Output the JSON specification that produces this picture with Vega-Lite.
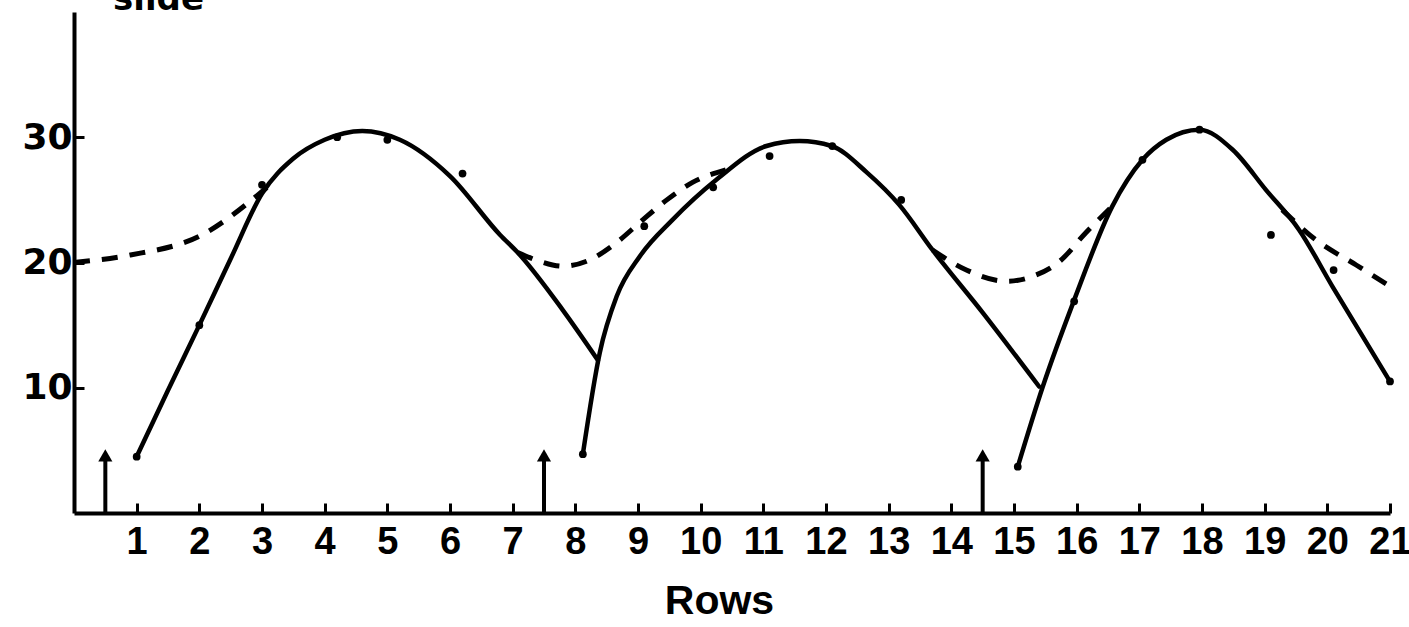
{
  "$schema": "https://vega.github.io/schema/vega-lite/v6.json",
  "width": 1316,
  "height": 501,
  "autosize": {"type": "none"},
  "padding": {"left": 74, "top": 12, "right": 19, "bottom": 114},
  "background": "white",
  "config": {
    "view": {"stroke": null},
    "font": "DejaVu Sans",
    "axis": {"grid": false}
  },
  "datasets": {
    "solid": [
      {"x": 1.0, "y": 4.5, "c": 1}, {"x": 1.5, "y": 9.8, "c": 1}, {"x": 2.0, "y": 15.0, "c": 1}, {"x": 2.5, "y": 20.3, "c": 1},
      {"x": 3.0, "y": 25.5, "c": 1}, {"x": 3.5, "y": 28.3, "c": 1}, {"x": 4.0, "y": 29.8, "c": 1}, {"x": 4.6, "y": 30.5, "c": 1},
      {"x": 5.2, "y": 29.8, "c": 1}, {"x": 6.0, "y": 26.9, "c": 1}, {"x": 6.8, "y": 22.2, "c": 1}, {"x": 7.08, "y": 20.8, "c": 1},
      {"x": 7.8, "y": 16.2, "c": 1}, {"x": 8.36, "y": 12.2, "c": 1},
      {"x": 8.12, "y": 4.7, "c": 2}, {"x": 8.39, "y": 12.8, "c": 2}, {"x": 8.66, "y": 17.3, "c": 2}, {"x": 9.03, "y": 20.5, "c": 2},
      {"x": 9.55, "y": 23.4, "c": 2}, {"x": 10.25, "y": 26.6, "c": 2}, {"x": 11.05, "y": 29.3, "c": 2}, {"x": 11.58, "y": 29.7, "c": 2},
      {"x": 12.09, "y": 29.3, "c": 2}, {"x": 12.65, "y": 27.2, "c": 2}, {"x": 13.17, "y": 24.6, "c": 2}, {"x": 13.7, "y": 21.0, "c": 2},
      {"x": 14.5, "y": 16.0, "c": 2}, {"x": 15.4, "y": 10.1, "c": 2},
      {"x": 15.06, "y": 3.7, "c": 3}, {"x": 15.46, "y": 10.1, "c": 3}, {"x": 15.96, "y": 17.0, "c": 3}, {"x": 16.57, "y": 24.5, "c": 3},
      {"x": 17.05, "y": 28.2, "c": 3}, {"x": 17.43, "y": 29.8, "c": 3}, {"x": 17.96, "y": 30.6, "c": 3}, {"x": 18.49, "y": 29.0, "c": 3},
      {"x": 19.02, "y": 25.8, "c": 3}, {"x": 19.55, "y": 22.6, "c": 3}, {"x": 20.08, "y": 18.1, "c": 3}, {"x": 21.0, "y": 10.5, "c": 3}
    ],
    "dashed": [
      {"x": 0.0, "y": 20.0, "s": "a"}, {"x": 0.9, "y": 20.6, "s": "a"}, {"x": 2.0, "y": 22.1, "s": "a"}, {"x": 3.08, "y": 26.0, "s": "a"},
      {"x": 7.08, "y": 20.8, "s": "b"}, {"x": 7.43, "y": 20.1, "s": "b"}, {"x": 7.8, "y": 19.7, "s": "b"}, {"x": 8.18, "y": 20.1, "s": "b"},
      {"x": 8.66, "y": 21.6, "s": "b"}, {"x": 9.03, "y": 23.2, "s": "b"}, {"x": 9.46, "y": 25.0, "s": "b"}, {"x": 9.87, "y": 26.4, "s": "b"},
      {"x": 10.4, "y": 27.4, "s": "b"},
      {"x": 13.7, "y": 21.0, "s": "c"}, {"x": 14.24, "y": 19.4, "s": "c"}, {"x": 14.88, "y": 18.5, "s": "c"}, {"x": 15.3, "y": 18.9, "s": "c"},
      {"x": 15.73, "y": 20.1, "s": "c"}, {"x": 16.15, "y": 22.4, "s": "c"}, {"x": 16.57, "y": 24.5, "s": "c"},
      {"x": 19.28, "y": 24.2, "s": "d"}, {"x": 19.82, "y": 21.8, "s": "d"}, {"x": 20.46, "y": 19.8, "s": "d"}, {"x": 21.0, "y": 18.1, "s": "d"}
    ],
    "points": [
      {"x": 1.0, "y": 4.5}, {"x": 2.0, "y": 15.0}, {"x": 3.0, "y": 26.2}, {"x": 4.2, "y": 30.0}, {"x": 5.0, "y": 29.8},
      {"x": 6.2, "y": 27.1}, {"x": 8.12, "y": 4.7}, {"x": 9.1, "y": 22.9}, {"x": 10.2, "y": 26.0}, {"x": 11.1, "y": 28.5},
      {"x": 12.1, "y": 29.3}, {"x": 13.2, "y": 25.0}, {"x": 15.06, "y": 3.7}, {"x": 15.96, "y": 16.9}, {"x": 17.05, "y": 28.2},
      {"x": 17.96, "y": 30.6}, {"x": 19.1, "y": 22.2}, {"x": 20.1, "y": 19.4}, {"x": 21.0, "y": 10.5}
    ],
    "arrows": [
      {"x": 0.5, "y0": 0, "y": 4.6}, {"x": 7.5, "y0": 0, "y": 4.6}, {"x": 14.5, "y0": 0, "y": 4.6}
    ]
  },
  "encoding": {
    "x": {"field": "x", "type": "quantitative",
      "scale": {"domain": [0, 21], "nice": false, "zero": false},
      "axis": {"values": [1,2,3,4,5,6,7,8,9,10,11,12,13,14,15,16,17,18,19,20,21],
        "title": "Rows", "titleFont": "Liberation Sans", "titleFontSize": 41, "titleFontWeight": "bold", "titleColor": "black", "titlePadding": 20, "titleX": 645,
        "labelFont": "Liberation Sans", "labelFontSize": 38, "labelFontWeight": "bold", "labelColor": "black", "labelPadding": 20, "labelFlush": false, "labelOverlap": false,
        "domainColor": "black", "domainWidth": 4, "tickColor": "black", "tickWidth": 3, "tickSize": -10}},
    "y": {"field": "y", "type": "quantitative",
      "scale": {"domain": [0, 40], "nice": false},
      "axis": {"values": [10, 20, 30], "title": "slide", "titleAngle": 0, "titleAlign": "center", "titleBaseline": "alphabetic",
        "titleX": 84, "titleY": -3, "titleFontSize": 34, "titleFontWeight": "bold", "titleColor": "black",
        "labelFontSize": 36, "labelFontWeight": "bold", "labelColor": "black", "labelPadding": 12,
        "domainColor": "black", "domainWidth": 4, "tickColor": "black", "tickWidth": 3, "tickSize": -10}}
  },
  "layer": [
    {"data": {"name": "solid"}, "mark": {"type": "line", "interpolate": "monotone", "color": "black", "strokeWidth": 4.5, "strokeCap": "round"},
      "encoding": {"detail": {"field": "c", "type": "nominal"}}},
    {"data": {"name": "dashed"}, "mark": {"type": "line", "interpolate": "monotone", "color": "black", "strokeWidth": 5, "strokeDash": [16, 12]},
      "encoding": {"detail": {"field": "s", "type": "nominal"}}},
    {"data": {"name": "points"}, "mark": {"type": "circle", "color": "black", "opacity": 1, "size": 60}},
    {"data": {"name": "arrows"}, "mark": {"type": "rule", "color": "black", "strokeWidth": 4},
      "encoding": {"y": {"field": "y0", "type": "quantitative"}, "y2": {"field": "y"}}},
    {"data": {"name": "arrows"}, "mark": {"type": "point", "shape": "triangle-up", "filled": true, "color": "black", "opacity": 1, "size": 200}}
  ]
}
